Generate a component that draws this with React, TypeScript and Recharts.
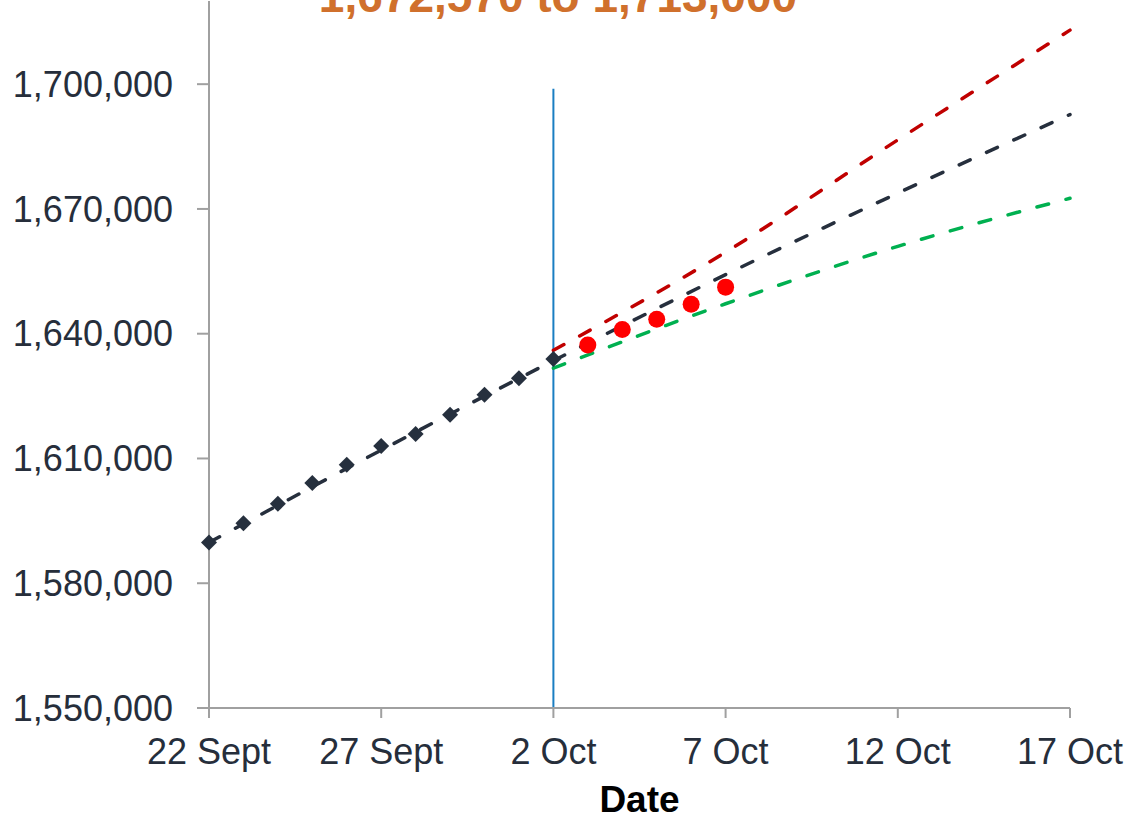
import React from "react";
import {
  ComposedChart,
  Line,
  XAxis,
  YAxis,
  ReferenceLine,
  Label,
} from "recharts";

// day 0 = 22 Sept
const xTickDays = [0, 5, 10, 15, 20, 25];
const xTickLabels = ["22 Sept", "27 Sept", "2 Oct", "7 Oct", "12 Oct", "17 Oct"];
const yTicks = [1550000, 1580000, 1610000, 1640000, 1670000, 1700000];

// observed counts (diamonds)
const actualDays = [0, 1, 2, 3, 4, 5, 6, 7, 8, 9, 10];
const actualValues = [
  1589800, 1594400, 1599100, 1604100, 1608500, 1613000, 1615900, 1620500,
  1625300, 1629300, 1633900,
];

// later observed counts (red dots)
const recentDays = [11, 12, 13, 14, 15];
const recentValues = [1637300, 1641000, 1643500, 1647100, 1651200];

// projection lines
const trendDays = [0, 5, 10, 15, 20, 25];
const trendValues = [1589800, 1612000, 1633500, 1654200, 1673800, 1692700];
const upperDays = [10, 15, 20, 25];
const upperValues = [1636000, 1659600, 1686600, 1713000];
const lowerDays = [10, 15, 20, 25];
const lowerValues = [1631700, 1647200, 1661000, 1672570];

const cutoffDay = 10;
const cutoffTop = 1698900;

interface Row {
  day: number;
  actual: number | null;
  recent: number | null;
  trend: number | null;
  upper: number | null;
  lower: number | null;
}

function buildRows(): Row[] {
  const allDays = Array.from(
    new Set([...actualDays, ...recentDays, ...trendDays, ...upperDays, ...lowerDays])
  ).sort((a, b) => a - b);
  const pick = (days: number[], vals: number[], d: number) => {
    const i = days.indexOf(d);
    return i >= 0 ? vals[i] : null;
  };
  return allDays.map((d) => ({
    day: d,
    actual: pick(actualDays, actualValues, d),
    recent: pick(recentDays, recentValues, d),
    trend: pick(trendDays, trendValues, d),
    upper: pick(upperDays, upperValues, d),
    lower: pick(lowerDays, lowerValues, d),
  }));
}

const FONT = '"Liberation Sans", Arial, sans-serif';
const TEXT = "#262e3b";
const AXIS = "#a0a0a0";

function Diamond(props: any) {
  const { cx, cy, value, index } = props;
  if (cx == null || cy == null || value == null) return <g key={`d${index}`} />;
  const s = 8;
  return (
    <path
      key={`d${index}`}
      d={`M${cx},${cy - s}L${cx + s},${cy}L${cx},${cy + s}L${cx - s},${cy}Z`}
      fill="#26303e"
    />
  );
}

function RedDot(props: any) {
  const { cx, cy, value, index } = props;
  if (cx == null || cy == null || value == null) return <g key={`r${index}`} />;
  return <circle key={`r${index}`} cx={cx} cy={cy} r={8.5} fill="#ff0000" />;
}

export default function App() {
  const data = buildRows();

  return (
    <div style={{ position: "absolute", left: 0, top: 0, width: 1132, height: 822, fontFamily: FONT }}>
      <div
        style={{
          position: "absolute",
          left: 258,
          width: 600,
          top: -27,
          lineHeight: "46px",
          fontSize: 46,
          fontWeight: "bold",
          color: "#d0702c",
          textAlign: "center",
          whiteSpace: "nowrap",
          zIndex: 1,
        }}
      >
        1,672,570 to 1,713,000
      </div>
      <ComposedChart
        width={1132}
        height={822}
        data={data}
        margin={{ top: 1, right: 62, bottom: 2, left: 0 }}
      >
        <XAxis
          dataKey="day"
          type="number"
          domain={[0, 25]}
          ticks={xTickDays}
          tickFormatter={(v: number) => xTickLabels[xTickDays.indexOf(v)] ?? ""}
          height={112}
          stroke={AXIS}
          strokeWidth={2}
          tickSize={10}
          tickMargin={20}
          tick={{ fontSize: 36, fill: TEXT, fontFamily: FONT }}
          interval={0}
        >
          <Label
            value="Date"
            position="insideBottom"
            offset={8}
            style={{ fontSize: 37, fontWeight: "bold", fill: "#000", fontFamily: FONT }}
          />
        </XAxis>
        <YAxis
          type="number"
          domain={[1550000, 1720000]}
          ticks={yTicks}
          width={209}
          stroke={AXIS}
          strokeWidth={2}
          tickSize={12}
          tickMargin={24}
          tick={{ fontSize: 36, fill: TEXT, fontFamily: FONT }}
          tickFormatter={(v: number) => v.toLocaleString("en-US")}
          interval={0}
        />

        {/* cutoff between observed and projected */}
        <ReferenceLine
          segment={[
            { x: cutoffDay, y: 1550000 },
            { x: cutoffDay, y: cutoffTop },
          ]}
          stroke="#1a7ec2"
          strokeWidth={2}
        />

        {/* projections */}
        <Line
          dataKey="trend"
          type="monotone"
          stroke="#262f3d"
          strokeWidth={3.5}
          strokeDasharray="12 18"
          strokeLinecap="round"
          dot={false}
          connectNulls
          isAnimationActive={false}
        />
        <Line
          dataKey="upper"
          type="monotone"
          stroke="#c00000"
          strokeWidth={3.5}
          strokeDasharray="12 18"
          strokeLinecap="round"
          dot={false}
          connectNulls
          isAnimationActive={false}
        />
        <Line
          dataKey="lower"
          type="monotone"
          stroke="#00b050"
          strokeWidth={3.5}
          strokeDasharray="12 18"
          strokeLinecap="round"
          dot={false}
          connectNulls
          isAnimationActive={false}
        />

        {/* observed points */}
        <Line
          dataKey="actual"
          stroke="none"
          dot={Diamond}
          activeDot={false}
          isAnimationActive={false}
        />
        <Line
          dataKey="recent"
          stroke="none"
          dot={RedDot}
          activeDot={false}
          isAnimationActive={false}
        />
      </ComposedChart>
    </div>
  );
}
